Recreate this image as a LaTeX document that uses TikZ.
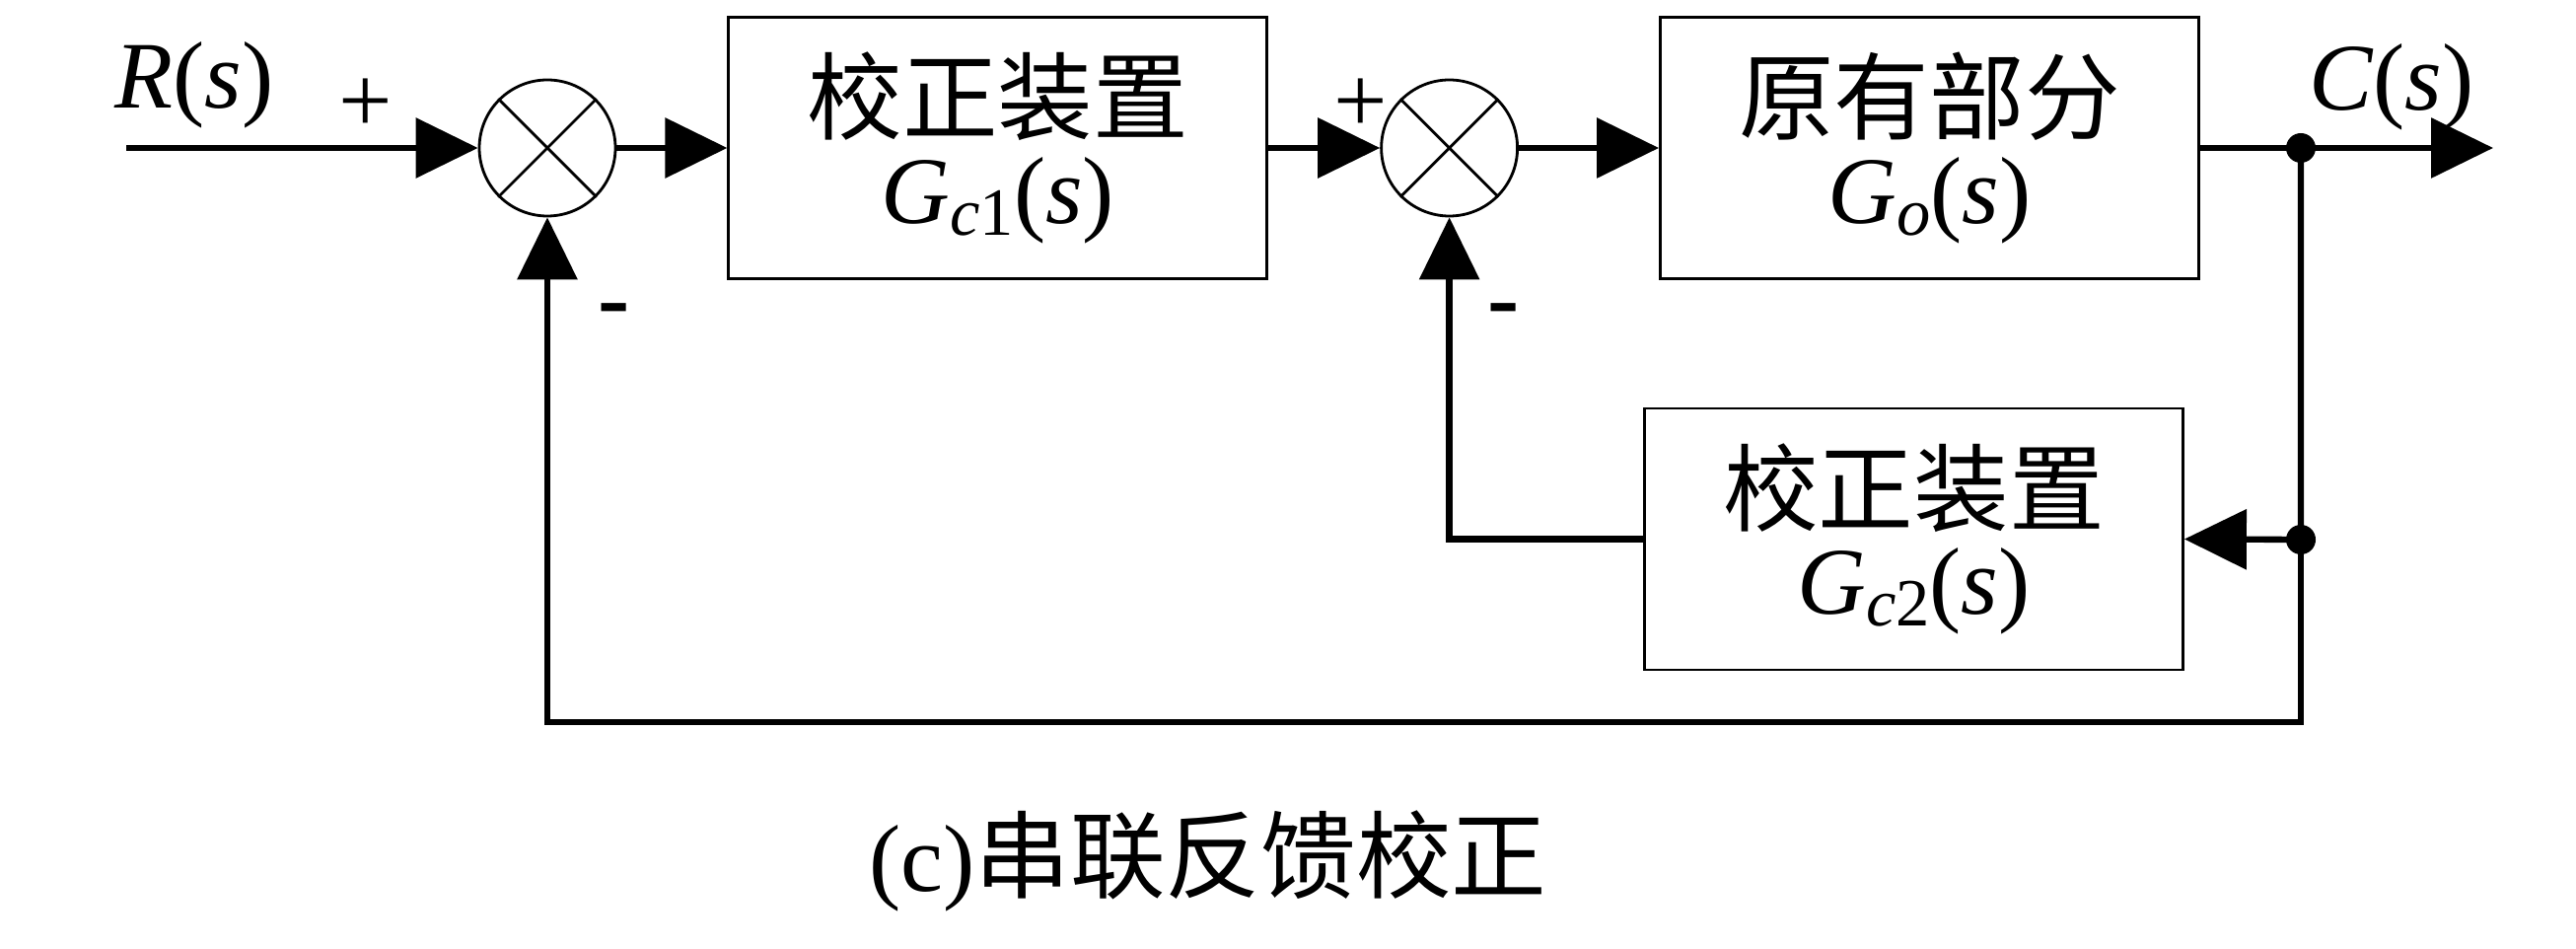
\documentclass[tikz,border=0pt]{standalone}
\usepackage{fontspec}
\setmainfont{Liberation Serif}
\newfontfamily\cjk{Noto Sans CJK SC}
\usepackage{tikz}
\usetikzlibrary{arrows.meta}
\usetikzlibrary{positioning}
\tikzset{font={\fontsize{27.5}{26}\selectfont}}
\newcommand{\Gsub}[1]{\textit{G}\raisebox{-0.12cm}{\fontsize{19.5}{19.5}\selectfont #1}(\textit{s})}

\begin{document}
\begin{tikzpicture}[
	blockbox/.style={rectangle, draw, line width=0.8pt, minimum width=5.46cm, minimum height=2.65cm, align=center, inner sep=0pt},
	sumnode/.style={circle, draw, line width=0.8pt, minimum size=1.38cm, inner sep=0pt},
	signal/.style={line width=1.8pt, -{Triangle[length=6.3mm,width=6mm]}},
	junction/.style={circle, fill, inner sep=0pt, minimum size=0.3cm}]

	\useasboundingbox (0,0) rectangle (26.12,-9.62);

	\node (sum1) [sumnode] at (5.55,-1.5) {};

	\node (corr1) [blockbox, right=1.12cm of sum1] {{\cjk 校正装置}\\\Gsub{\textit{c}1}};

	\node (sum2) [sumnode, right=1.13cm of corr1] {};

	\node (plant) [blockbox, right=1.42cm of sum2] {{\cjk 原有部分}\\\Gsub{\textit{o}}};

	\node (corr2) [blockbox] at (19.405,-5.465) {{\cjk 校正装置}\\\Gsub{\textit{c}2}};

	\foreach \s in {sum1,sum2}
		\draw[line width=0.8pt] (\s.45) -- (\s.225) (\s.135) -- (\s.-45);

	\coordinate (input) at (1.28,-1.5);
	\coordinate (output) at (25.28,-1.5);
	\coordinate (fb_low) at (23.33,-7.32);

	\node (out_dot) [junction] at (23.33,-1.5) {};
	\node (fb_dot) [junction] at (23.33,-5.47) {};

	% forward path
	\draw[signal] (input) -- (sum1);
	\draw[signal] (sum1) -- (corr1);
	\draw[signal] (corr1) -- (sum2);
	\draw[signal] (sum2) -- (plant);
	\draw[signal] (plant) -- (output);

	% feedback paths
	\draw[signal] (out_dot.center) -- (fb_dot.center) -- (corr2.east);
	\draw[signal] (corr2.west) -| (sum2.south);
	\draw[signal] (fb_dot.center) -- (fb_low) -| (sum1.south);

	\node (r_lbl) [anchor=base] at (1.97,-1.10) {\textit{R}(\textit{s})};
	\node (c_lbl) [anchor=base] at (24.25,-1.12) {\textit{C}(\textit{s})};
	\node (plus1) at (3.71,-1.07) {+};
	\node (plus2) at (13.80,-1.07) {+};
	\node (minus1) [anchor=base] at (6.23,-3.35) {\textbf{-}};
	\node (minus2) [anchor=base] at (15.25,-3.35) {\textbf{-}};

	\node (caption) [anchor=base] at (12.25,-9.04) {(c){\cjk 串联反馈校正}};

\end{tikzpicture}
\end{document}
